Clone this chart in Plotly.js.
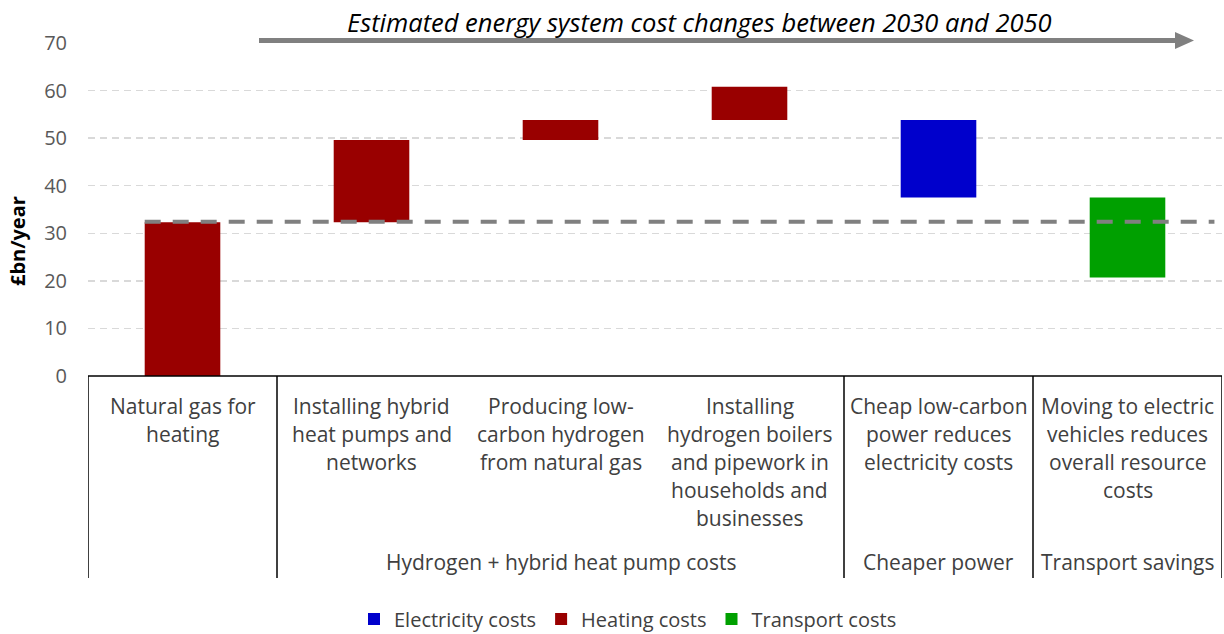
<!DOCTYPE html>
<html>
<head>
<meta charset="utf-8">
<script src="https://cdn.plot.ly/plotly-3.0.1.min.js"></script>
<style>html,body{margin:0;padding:0;background:#fff;}#chart{width:1224px;height:634px;}</style>
</head>
<body>
<div id="chart"></div>
<script>
// ---- Data ----
const categories = [
  "Natural gas for<br>heating",
  "Installing hybrid<br>heat pumps and<br>networks",
  "Producing low-<br>carbon hydrogen<br>from natural gas",
  "Installing<br>hydrogen boilers<br>and pipework in<br>households and<br>businesses",
  "Cheap low-carbon<br>power reduces<br>electricity costs",
  "Moving to electric<br>vehicles reduces<br>overall resource<br>costs"
];
const barStart = [0, 32.3, 49.6, 53.8, 53.8, 37.5];
const barEnd   = [32.3, 49.6, 53.8, 60.8, 37.5, 20.7];
const seriesOf = ["Heating costs", "Heating costs", "Heating costs", "Heating costs", "Electricity costs", "Transport costs"];
const seriesNames = ["Electricity costs", "Heating costs", "Transport costs"];
const seriesColors = {"Electricity costs": "#0000CC", "Heating costs": "#990000", "Transport costs": "#00A000"};
const groupLabels = ["", "Hydrogen + hybrid heat pump costs", "Cheaper power", "Transport savings"];
const groupFirst = [0, 1, 4, 5];
const groupLast  = [0, 3, 4, 5];
const referenceLevel = 32.4;
const yTicks = [0, 10, 20, 30, 40, 50, 60, 70];
const chartTitle = "Estimated energy system cost changes between 2030 and 2050";
const yTitle = "£bn/year";

// ---- Layout helpers ----
const W = 1224, H = 634;
const mL = 88, mR = 2, mT = 43, mB = 258;
const plotH = H - mT - mB;
const plotW = W - mL - mR;
const py = p => (H - mB - p) / plotH;   // pixel y -> paper y
const px = p => (p - mL) / plotW;       // pixel x -> paper x

const FONT = "Open Sans, Noto Sans, sans-serif";
const TEXT_COLOR = "#404040";
const LABEL_SIZE = 21;

const traces = seriesNames.map(name => {
  const xs = [], bases = [], heights = [];
  categories.forEach((c, i) => {
    if (seriesOf[i] === name) {
      xs.push(i);
      const lo = Math.min(barStart[i], barEnd[i]);
      const hi = Math.max(barStart[i], barEnd[i]);
      bases.push(lo);
      heights.push(hi - lo);
    }
  });
  return {
    type: "bar", name: name, x: xs, y: heights, base: bases, width: 0.4,
    marker: {color: seriesColors[name], line: {width: 0}},
    hoverinfo: "skip"
  };
});

const shapes = [];
const annotations = [];

// table lines
shapes.push({type: "line", xref: "x", yref: "paper", x0: -0.5, x1: 5.5, y0: 0, y1: 0,
  line: {color: "#000", width: 1.5}, layer: "above"});
const boundaries = [-0.5, 0.5, 3.5, 4.5, 5.5];
boundaries.forEach(b => {
  shapes.push({type: "line", xref: "x", yref: "paper", x0: b, x1: b, y0: 0, y1: py(578),
    line: {color: "#000", width: 1.5}, layer: "above"});
});

// reference dashed line
shapes.push({type: "line", xref: "x", yref: "y", x0: -0.2, x1: 5.46, y0: referenceLevel, y1: referenceLevel,
  line: {color: "#808080", width: 4, dash: "16px,12px"}, layer: "above"});

// arrow
shapes.push({type: "line", xref: "paper", yref: "paper", x0: px(259), x1: px(1178), y0: py(40.5), y1: py(40.5),
  line: {color: "#808080", width: 5}, layer: "above"});
shapes.push({type: "path", xref: "paper", yref: "paper",
  path: `M ${px(1175)} ${py(32)} L ${px(1194)} ${py(40.5)} L ${px(1175)} ${py(49)} Z`,
  fillcolor: "#808080", line: {width: 0}, layer: "above"});

// title
annotations.push({text: chartTitle, xref: "paper", yref: "paper", x: px(699), y: py(22),
  xanchor: "center", yanchor: "middle", showarrow: false,
  font: {family: FONT, size: 25.5, color: "#000", style: "italic"}});

// y title
annotations.push({text: "<b>" + yTitle + "</b>", xref: "paper", yref: "paper", x: px(18), y: py(241),
  xanchor: "center", yanchor: "middle", showarrow: false, textangle: -90,
  font: {family: FONT, size: 20, color: "#000"}});

// category labels (one annotation per line)
categories.forEach((c, i) => {
  c.split("<br>").forEach((line, k) => {
    annotations.push({text: line, xref: "x", yref: "paper", x: i, y: py(406 + 28 * k),
      xanchor: "center", yanchor: "middle", showarrow: false,
      font: {family: FONT, size: LABEL_SIZE, color: TEXT_COLOR}});
  });
});

// group labels
groupLabels.forEach((g, j) => {
  if (!g) return;
  annotations.push({text: g, xref: "x", yref: "paper", x: (groupFirst[j] + groupLast[j]) / 2, y: py(562),
    xanchor: "center", yanchor: "middle", showarrow: false,
    font: {family: FONT, size: LABEL_SIZE, color: TEXT_COLOR}});
});

const layout = {
  width: W, height: H,
  margin: {l: mL, r: mR, t: mT, b: mB, pad: 0, autoexpand: false},
  paper_bgcolor: "#fff", plot_bgcolor: "#fff",
  barmode: "overlay",
  showlegend: true,
  legend: {orientation: "h", x: px(628), xanchor: "center", y: py(619), yanchor: "middle",
    font: {family: FONT, size: 20, color: TEXT_COLOR}, itemwidth: 30, traceorder: "normal",
    bgcolor: "rgba(0,0,0,0)"},
  xaxis: {range: [-0.5, 5.5], showticklabels: false, showgrid: false, zeroline: false, showline: false,
    ticks: "", fixedrange: true},
  yaxis: {range: [0, 70], tickvals: yTicks, ticktext: yTicks.map(String),
    showgrid: true, gridcolor: "#D9D9D9", gridwidth: 1.5, griddash: "7px,5px",
    zeroline: false, showline: false, ticks: "", ticklabelstandoff: 20,
    tickfont: {family: FONT, size: 20, color: "#595959"}, fixedrange: true},
  shapes: shapes,
  annotations: annotations
};

Plotly.newPlot("chart", traces, layout, {displayModeBar: false, staticPlot: true});
</script>
</body>
</html>
